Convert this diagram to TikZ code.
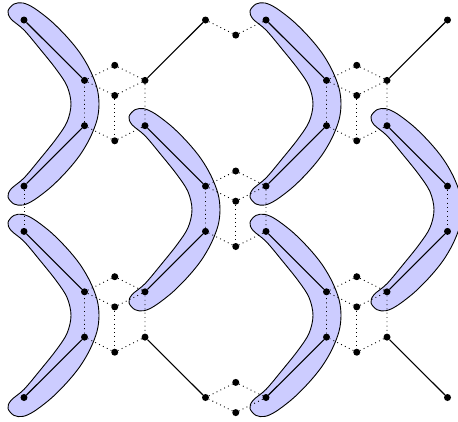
\documentclass[tikz,border=0pt]{standalone}
\definecolor{blobfill}{RGB}{204,204,255}
\tikzset{
  dot/.style={circle,fill=black,inner sep=0pt,minimum size=7pt},
  solidline/.style={line width=1.1pt},
  dotline/.style={line width=0.9pt,dash pattern=on 0.9pt off 3.4pt},
  blobline/.style={draw=black,fill=blobfill,line width=0.9pt},
  blob/.pic={
    \filldraw[blobline] plot[smooth cycle,tension=0.55] coordinates {
      (-16pt,9pt) (-10pt,16pt) (-1pt,17pt) (10pt,12pt) (27pt,-1pt) (43pt,-17pt)
      (56pt,-33pt) (66pt,-50pt) (73pt,-68pt) (75pt,-84pt) (73pt,-100pt)
      (66pt,-118pt) (56pt,-135pt) (43pt,-151pt) (27pt,-167pt) (10pt,-180pt)
      (-1pt,-185pt) (-10pt,-184pt) (-16pt,-177pt) (-13pt,-169pt) (0pt,-158pt)
      (16pt,-139pt) (32pt,-119pt) (43pt,-102pt) (47pt,-84pt) (43pt,-66pt)
      (32pt,-49pt) (16pt,-29pt) (0pt,-10pt) (-13pt,1pt)};
  }
}
\begin{document}
\begin{tikzpicture}[x=30.25pt,y=-15.1pt]
\useasboundingbox (-24pt,20pt) rectangle (434pt,-401pt);
\clip (-24pt,20pt) rectangle (434pt,-401pt);
% blobs
\foreach \bi/\bj in {0/0,4/7,8/0,12/7,0/14,8/14}
  \pic at (\bi,\bj) {blob};
% nodes
\foreach \i/\j in {0/0,0/11,0/14,0/25,
                   2/4,2/7,2/18,2/21,
                   3/3,3/5,3/8,3/17,3/19,3/22,
                   4/4,4/7,4/18,4/21,
                   6/0,6/11,6/14,6/25,
                   7/1,7/10,7/12,7/15,7/24,7/26,
                   8/0,8/11,8/14,8/25,
                   10/4,10/7,10/18,10/21,
                   11/3,11/5,11/8,11/17,11/19,11/22,
                   12/4,12/7,12/18,12/21,
                   14/0,14/11,14/14,14/25}
  \node[dot] (p\i-\j) at (\i,\j) {};
% solid edges
\foreach \a/\b in {0-0/2-4,2-7/0-11,4-4/6-0,4-7/6-11,6-14/4-18,
                   8-0/10-4,10-7/8-11,12-4/14-0,12-7/14-11,14-14/12-18,
                   0-14/2-18,2-21/0-25,4-21/6-25,8-14/10-18,10-21/8-25,12-21/14-25}
  \draw[solidline] (p\a) -- (p\b);
% dotted cubes
\foreach \c/\t in {3/3,11/3,7/10,3/17,11/17}{
  \pgfmathtruncatemacro\xl{\c-1}
  \pgfmathtruncatemacro\xr{\c+1}
  \pgfmathtruncatemacro\ya{\t+1}
  \pgfmathtruncatemacro\yb{\t+2}
  \pgfmathtruncatemacro\yc{\t+4}
  \pgfmathtruncatemacro\yd{\t+5}
  \draw[dotline] (p\xl-\ya) -- (p\c-\t) -- (p\xr-\ya) -- (p\xr-\yc) -- (p\c-\yd) -- (p\xl-\yc) -- (p\xl-\ya);
  \draw[dotline] (p\xl-\ya) -- (p\c-\yb) -- (p\xr-\ya);
  \draw[dotline] (p\c-\yb) -- (p\c-\yd);
}
% partial dotted pieces
\draw[dotline] (p6-0) -- (p7-1) -- (p8-0);
\draw[dotline] (p6-25) -- (p7-24) -- (p8-25) -- (p7-26) -- (p6-25);
\draw[dotline] (p0-11) -- (p0-14);
\draw[dotline] (p14-11) -- (p14-14);
\end{tikzpicture}
\end{document}
